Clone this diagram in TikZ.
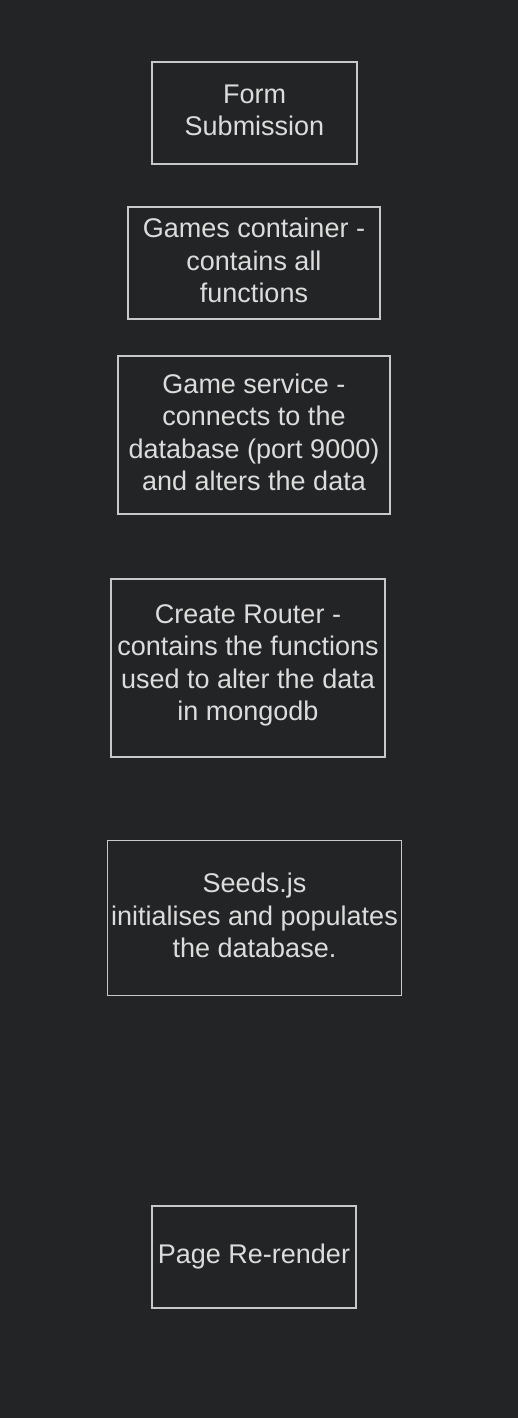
\documentclass[tikz,border=0pt]{standalone}
\usepackage{fontspec}
\setmainfont{Liberation Sans}
\definecolor{canvas}{HTML}{232425}
\definecolor{edge}{HTML}{C8C8C8}
\definecolor{ink}{HTML}{DCDCDC}
\begin{document}
\begin{tikzpicture}[x=1pt,y=-1pt,
  stagebox/.style={draw=edge, line width=1.3pt, inner sep=0pt},
  stagetext/.style={inner sep=0pt, align=center, text=ink, yshift=2.5pt,
    font=\fontsize{27}{32.5}\selectfont}]
\fill[canvas] (0,0) rectangle (518,1418);
\useasboundingbox (0,0) rectangle (518,1418);
% boxes
\node[stagebox, minimum width=205, minimum height=102] (form) at (254.5,113) {};
\node[stagebox, minimum width=252, minimum height=112] (games) at (254,263) {};
\node[stagebox, minimum width=272, minimum height=158] (service) at (254,435) {};
\node[stagebox, minimum width=274, minimum height=178] (router) at (248,668) {};
\node[stagebox, minimum width=294, minimum height=155] (seeds) at (254.5,918) {};
\node[stagebox, minimum width=204, minimum height=102] (rerender) at (254,1257) {};
% captions
\node[stagetext] (form-t) at (form.center) {Form\\Submission};
\node[stagetext] (games-t) at (games.center)
  {Games container -\\contains all\\functions};
\node[stagetext] (service-t) at (service.center)
  {Game service -\\connects to the\\database (port 9000)\\and alters the data};
\node[stagetext] (router-t) at (router.center)
  {Create Router -\\contains the functions\\used to alter the data\\in mongodb};
\node[stagetext] (seeds-t) at (seeds.center)
  {Seeds.js\\initialises and populates\\the database.};
\node[stagetext, yshift=-2pt] (rerender-t) at (rerender.center) {Page Re-render};
\end{tikzpicture}
\end{document}
